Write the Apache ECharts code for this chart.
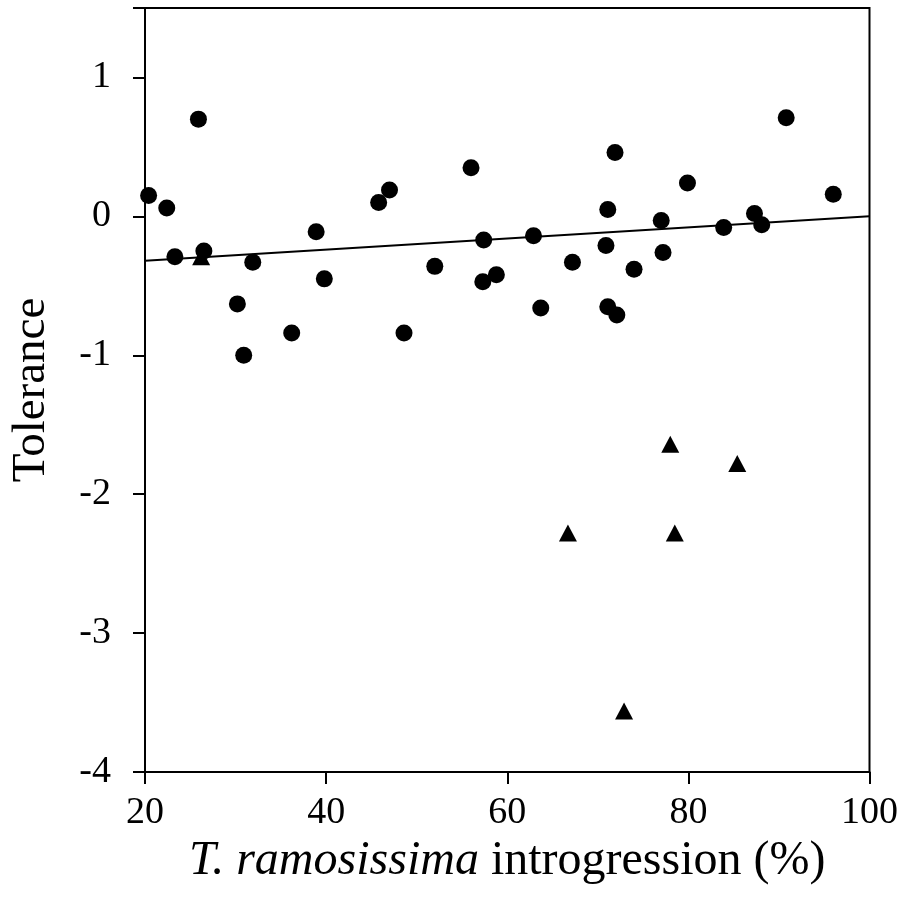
<!DOCTYPE html>
<html>
  <head>
    <meta charset="utf-8" />
    <title>Tolerance vs introgression</title>
    <script src="https://cdn.jsdelivr.net/npm/echarts@6/dist/echarts.min.js"></script>
    <style>
      html, body { margin: 0; padding: 0; background: #fff; }
    </style>
  </head>
  <body>
    <div id="container" style="width: 901px;height: 901px;"></div>

    <script type="text/javascript">
    // introgression (%) , tolerance -- circles
    var circlePts = [
        [20.4, 0.15], [22.4, 0.06], [25.9, 0.70], [23.3, -0.29], [26.5, -0.25],
        [31.9, -0.33], [30.2, -0.63], [30.9, -1.00], [36.2, -0.84], [38.9, -0.11],
        [39.8, -0.45], [45.8, 0.10], [47.0, 0.19], [48.6, -0.84], [52.0, -0.36],
        [56.0, 0.35], [57.4, -0.17], [58.8, -0.42], [57.3, -0.47], [62.9, -0.14],
        [63.7, -0.66], [67.2, -0.33], [71.9, 0.46], [71.1, 0.05], [70.9, -0.21],
        [71.1, -0.65], [72.1, -0.71], [74.0, -0.38], [77.0, -0.03], [77.2, -0.26],
        [79.9, 0.24], [83.9, -0.08], [87.3, 0.02], [88.1, -0.06], [90.8, 0.71],
        [96.0, 0.16]
    ];
    // triangles
    var trianglePts = [
        [26.2, -0.29], [78.0, -1.64], [85.4, -1.78], [66.7, -2.28], [78.5, -2.28],
        [72.9, -3.56]
    ];
    // fitted line end points
    var fitLine = [[20, -0.32], [100, 0.0]];

    var xTicks = [20, 40, 60, 80, 100];
    var yTicks = [-4, -3, -2, -1, 0, 1];

    var myChart = echarts.init(document.getElementById('container'));
    var font = "'Liberation Serif', 'Times New Roman', serif";

    var option = {
        animation: false,
        backgroundColor: '#fff',
        grid: {
            left: 142, right: 30, top: 8, bottom: 129,
            show: true, borderColor: '#000', borderWidth: 2
        },
        xAxis: {
            type: 'value',
            min: xTicks[0], max: xTicks[xTicks.length - 1], interval: 20,
            splitLine: { show: false },
            axisLine: { show: true, onZero: false, lineStyle: { color: '#000', width: 2 } },
            axisTick: { show: true, inside: false, length: 12, lineStyle: { color: '#000', width: 2 } },
            axisLabel: { color: '#000', fontFamily: font, fontSize: 38, margin: 22 },
            name: '{i|T. ramosissima} introgression (%)',
            nameLocation: 'middle',
            nameGap: 52,
            nameTextStyle: {
                color: '#000', fontFamily: font, fontSize: 48,
                rich: { i: { fontStyle: 'italic', fontFamily: font, fontSize: 48, color: '#000' } }
            }
        },
        yAxis: {
            type: 'value',
            min: -4, max: 1.5, interval: 1,
            splitLine: { show: false },
            axisLine: { show: true, onZero: false, lineStyle: { color: '#000', width: 2 } },
            axisTick: { show: true, inside: false, length: 12, lineStyle: { color: '#000', width: 2 } },
            axisLabel: {
                color: '#000', fontFamily: font, fontSize: 38, margin: 34,
                formatter: function (v) { return yTicks.indexOf(v) >= 0 ? String(v) : ''; }
            },
            name: 'Tolerance',
            nameLocation: 'middle',
            nameGap: 90,
            nameTextStyle: { color: '#000', fontFamily: font, fontSize: 47 }
        },
        series: [
            {
                type: 'line',
                data: fitLine,
                symbol: 'none',
                lineStyle: { color: '#000', width: 2 },
                z: 1
            },
            {
                type: 'scatter',
                data: trianglePts,
                symbol: 'triangle',
                symbolSize: [18, 17],
                itemStyle: { color: '#000', opacity: 1 },
                z: 2
            },
            {
                type: 'scatter',
                data: circlePts,
                symbol: 'circle',
                symbolSize: 17,
                itemStyle: { color: '#000', opacity: 1 },
                z: 3
            }
        ]
    };
    myChart.setOption(option);
    </script>
  </body>
</html>
